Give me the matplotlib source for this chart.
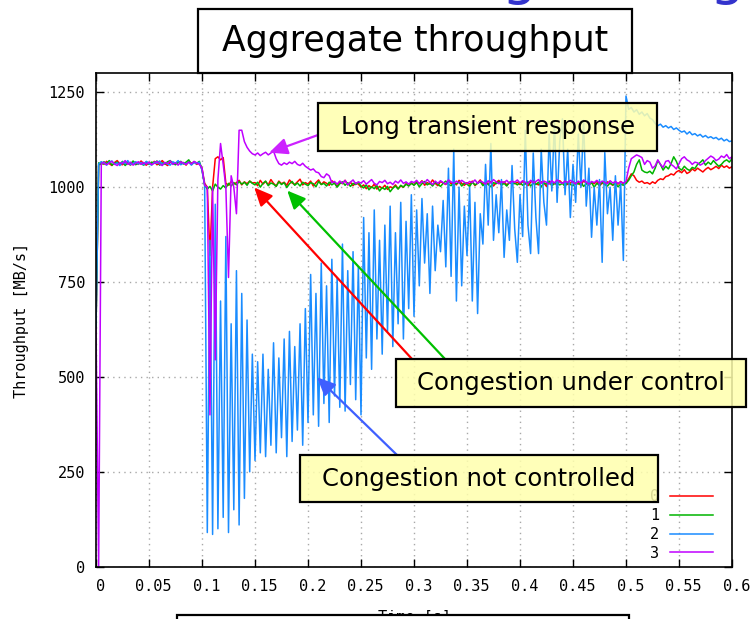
import numpy as np
import matplotlib
matplotlib.use("Agg")
import matplotlib.pyplot as plt
import matplotlib.transforms as mtransforms
from matplotlib.patches import Rectangle

W, H = 753, 619

# samples every 2.5 ms, 0 .. 0.6 s (rows of 20 = 50 ms)
t = np.round(np.arange(241) * 0.0025, 4)

red = [
    630, 1058, 1066, 1060, 1068, 1062, 1057, 1065, 1070, 1061, 1059, 1066, 1063, 1058, 1067, 1064, 1060, 1069, 1062, 1058,
    1065, 1061, 1068, 1059, 1063, 1070, 1062, 1057, 1066, 1064, 1060, 1067, 1061, 1065, 1058, 1068, 1063, 1066, 1060, 1064,
    1050, 1010, 1000, 820, 1000, 1075, 1080, 1072, 1078, 1010, 1005, 1015, 1008, 1012, 1018, 1006, 1014, 1009, 1016, 1011,
    1012, 1004, 1018, 1008, 1015, 1006, 1020, 1010, 1003, 1016, 1009, 1013, 1005, 1019, 1011, 1007, 1014, 1021, 1006, 1012,
    1008, 1016, 1003, 1012, 1019, 1007, 1014, 1010, 1005, 1017, 1011, 1002, 1015, 1009, 1018, 1006, 1013, 1004, 1011, 1008,
    1000, 1006, 996, 1004, 999, 1008, 995, 1002, 997, 1005, 994, 1001, 998, 1006, 996, 1003, 1000, 1009, 1004, 1011,
    1006, 1014, 1009, 1017, 1005, 1012, 1008, 1019, 1010, 1004, 1015, 1011, 1007, 1016, 1009, 1013, 1006, 1018, 1010, 1005,
    1012, 1008, 1016, 1004, 1011, 1019, 1007, 1013, 1009, 1015, 1003, 1012, 1018, 1008, 1014, 1006, 1011, 1017, 1009, 1013,
    1007, 1015, 1010, 1004, 1013, 1018, 1009, 1006, 1014, 1011, 1002, 1016, 1008, 1012, 1005, 1017, 1010, 1014, 1007, 1011,
    1015, 1008, 1012, 1004, 1017, 1010, 1006, 1013, 1009, 1016, 1003, 1011, 1007, 1014, 1010, 1005, 1012, 1008, 1015, 1009,
    1012, 1022, 1035, 1030, 1018, 1013, 1016, 1010, 1012, 1008, 1014, 1010, 1018, 1022, 1020, 1028, 1030, 1035, 1032, 1040,
    1044, 1038, 1046, 1036, 1040, 1048, 1043, 1050, 1045, 1040, 1047, 1052, 1046, 1050, 1055, 1049, 1058, 1052, 1056, 1050, 1054,
]

green = [
    630, 1064, 1059, 1067, 1062, 1070, 1058, 1063, 1066, 1060, 1068, 1057, 1064, 1061, 1069, 1059, 1065, 1062, 1058, 1067,
    1060, 1066, 1063, 1069, 1058, 1064, 1061, 1067, 1070, 1062, 1059, 1065, 1068, 1061, 1066, 1072, 1060, 1067, 1063, 1068,
    1045, 1005, 995, 1002, 990, 1008, 1000, 995, 1004, 998, 1010, 1003, 1012, 1006, 1015, 1008, 1013, 1005, 1016, 1010,
    1006, 1013, 1000, 1010, 1016, 1004, 1011, 1008, 1002, 1014, 1007, 1012, 999, 1009, 1015, 1005, 1011, 1003, 1013, 1008,
    1004, 1012, 1009, 1001, 1015, 1007, 1010, 1003, 1013, 1006, 1011, 1000, 1009, 1014, 1005, 1012, 1002, 1010, 1007, 1013,
    1003, 998, 1006, 993, 1001, 996, 1004, 990, 999, 994, 1002, 988, 997, 1003, 995, 1005, 1000, 1008, 1003, 1010,
    1005, 1012, 1001, 1009, 1015, 1006, 1011, 1003, 1013, 1008, 1002, 1010, 1016, 1007, 1004, 1012, 1009, 1014, 1003, 1011,
    1008, 1002, 1013, 1006, 1010, 1015, 1004, 1011, 1007, 1001, 1012, 1009, 1014, 1005, 1010, 1003, 1013, 1008, 1011, 1006,
    1012, 1005, 1009, 1014, 1003, 1010, 1007, 1013, 1001, 1011, 1008, 1015, 1004, 1009, 1012, 1006, 1010, 1002, 1013, 1007,
    1004, 1011, 1008, 1013, 1002, 1009, 1006, 1012, 1000, 1010, 1005, 1014, 1007, 1003, 1011, 1006, 1009, 1001, 1008, 1005,
    1010, 1018, 1030, 1040, 1060, 1072, 1045, 1040, 1038, 1042, 1035, 1050, 1070, 1060, 1045, 1055, 1048, 1062, 1080, 1068,
    1050, 1045, 1055, 1048, 1044, 1052, 1049, 1060, 1065, 1072, 1058, 1066, 1060, 1070, 1062, 1055, 1060, 1068, 1072, 1066, 1075,
]

blue = [
    630, 1061, 1067, 1063, 1058, 1066, 1069, 1060, 1064, 1057, 1066, 1062, 1070, 1059, 1063, 1067, 1061, 1065, 1059, 1068,
    1062, 1058, 1066, 1063, 1069, 1060, 1065, 1061, 1058, 1067, 1063, 1070, 1059, 1064, 1061, 1066, 1058, 1065, 1062, 1066,
    1045, 1005, 90, 860, 85, 955, 100, 700, 130, 870, 90, 640, 150, 780, 110, 720, 180, 650, 250, 560,
    280, 540, 300, 560, 290, 520, 320, 590, 300, 550, 340, 600, 290, 620, 330, 580, 360, 640, 320, 680,
    380, 770, 400, 720, 370, 800, 430, 740, 380, 810, 450, 760, 420, 850, 410, 780, 480, 830, 440, 790,
    400, 920, 550, 880, 520, 940, 600, 860, 560, 900, 620, 950, 580, 880, 640, 960, 600, 910, 680, 980,
    660, 940, 740, 970, 800, 930, 720, 950, 780, 900, 830, 965, 790, 1050, 765, 1100, 700, 1000, 740, 950,
    820, 1000, 700, 960, 667, 930, 850, 1060, 900, 1115, 860, 980, 880, 1020, 815, 940, 860, 1057, 890, 802,
    980, 870, 1150, 900, 825, 1090, 920, 825, 1100, 960, 900, 1140, 990, 1170, 960, 1120, 1180, 980, 1100, 920,
    1060, 960, 1140, 1000, 1176, 950, 1050, 868, 1000, 900, 1020, 802, 1091, 930, 1000, 860, 1030, 900, 1010, 807,
    1240, 1205, 1210, 1198, 1204, 1192, 1198, 1188, 1194, 1182, 1178, 1168, 1162, 1166, 1158, 1162, 1156, 1160, 1152, 1156,
    1150, 1145, 1148, 1140, 1146, 1138, 1141, 1135, 1139, 1132, 1136, 1130, 1133, 1128, 1131, 1125, 1129, 1122, 1126, 1120, 1122,
]

magenta = [
    630, 0, 1062, 1066, 1059, 1064, 1068, 1061, 1057, 1065, 1062, 1070, 1060, 1066, 1058, 1063, 1067, 1060, 1065, 1061,
    1066, 1059, 1063, 1068, 1061, 1057, 1065, 1062, 1069, 1060, 1064, 1058, 1067, 1063, 1060, 1066, 1061, 1068, 1064, 1060,
    1050, 1005, 1000, 400, 1000, 545, 1020, 1115, 1060, 1000, 762, 1030, 1000, 930, 1150, 1150, 1120, 1105, 1095, 1088,
    1085, 1090, 1083, 1088, 1092, 1085, 1090, 1095, 1075, 1062, 1058, 1064, 1060, 1066, 1062, 1068, 1060, 1057, 1063, 1055,
    1050, 1045, 1048, 1040, 1038, 1028, 1025, 1035, 1030, 1012, 1015, 1008, 1016, 1010, 1018, 1006, 1013, 1019, 1009, 1014,
    1011, 1017, 1008, 1014, 1020, 1010, 1006, 1015, 1012, 1018, 1009, 1013, 1007, 1016, 1011, 1019, 1010, 1014, 1008, 1015,
    1012, 1018, 1009, 1015, 1011, 1020, 1013, 1007, 1016, 1010, 1017, 1012, 1008, 1019, 1014, 1010, 1016, 1011, 1018, 1013,
    1009, 1015, 1012, 1019, 1010, 1016, 1013, 1008, 1017, 1011, 1020, 1014, 1009, 1015, 1012, 1018, 1010, 1016, 1013, 1019,
    1011, 1017, 1013, 1009, 1018, 1012, 1015, 1020, 1010, 1016, 1013, 1008, 1017, 1011, 1019, 1014, 1010, 1016, 1012, 1018,
    1013, 1009, 1016, 1011, 1019, 1014, 1008, 1015, 1012, 1018, 1010, 1016, 1013, 1009, 1017, 1011, 1015, 1010, 1014, 1011,
    1015, 1050, 1075, 1080, 1085, 1082, 1078, 1060, 1070, 1066, 1050, 1056, 1072, 1060, 1052, 1068, 1070, 1060, 1055, 1048,
    1062, 1075, 1080, 1072, 1068, 1060, 1066, 1064, 1058, 1062, 1070, 1076, 1082, 1078, 1070, 1074, 1082, 1078, 1086, 1075, 1080,
]

labels = ["0", "1", "2", "3"]
colors = ["#ff0000", "#00b400", "#1a8cff", "#c000ff"]
xticks = [0, 0.05, 0.1, 0.15, 0.2, 0.25, 0.3, 0.35, 0.4, 0.45, 0.5, 0.55, 0.6]
xtick_labels = ["0", "0.05", "0.1", "0.15", "0.2", "0.25", "0.3", "0.35", "0.4", "0.45", "0.5", "0.55", "0.6"]
yticks = [0, 250, 500, 750, 1000, 1250]

plt.rcParams["font.family"] = "DejaVu Sans Mono"
CASUAL = "DejaVu Sans"

fig = plt.figure(figsize=(W / 100, H / 100), dpi=100)
ax = fig.add_axes([96 / W, 1 - 566.7 / H, 636 / W, (566.7 - 73.3) / H])

for vals, c, lab in zip([red, green, blue, magenta], colors, labels):
    ax.plot(t, vals, color=c, lw=1.1, label=lab)

ax.set_xlim(0, 0.6)
ax.set_ylim(0, 1300)
ax.set_xticks(xticks)
ax.set_xticklabels(xtick_labels)
ax.set_yticks(yticks)
ax.set_axisbelow(True)
ax.grid(True, color="#a8a8a8", ls=(0, (1, 3)), lw=1)
ax.tick_params(direction="in", length=6, width=1, top=True, right=True,
               labelsize=11, colors="black")
ax.tick_params(axis="y", pad=8)
ax.tick_params(axis="x", pad=9)
for s in ax.spines.values():
    s.set_linewidth(1.2)

# gnuplot labels sit a little right of their ticks
off = mtransforms.ScaledTranslation(4.5 / 100, 0, fig.dpi_scale_trans)
for lbl in ax.get_xticklabels():
    lbl.set_transform(lbl.get_transform() + off)

ax.set_ylabel("Throughput [MB/s]", fontsize=11, labelpad=14)
ax.set_xlabel("Time [s]", fontsize=11, labelpad=11)

ax.legend(loc="lower right", bbox_to_anchor=(0.97, 0.012), frameon=False,
          markerfirst=False, handlelength=2.8, handletextpad=0.7,
          labelspacing=0.25, fontsize=11, borderpad=0, borderaxespad=0)


def px_box(x0, y0, x1, y1, fc):
    fig.add_artist(Rectangle((x0 / W, 1 - y1 / H), (x1 - x0) / W, (y1 - y0) / H,
                             transform=fig.transFigure, fc=fc, ec="black", lw=1.6))


def px_text(x, y, s, size):
    fig.text(x / W, 1 - y / H, s, ha="center", va="center", fontsize=size,
             family=CASUAL, color="black")


def arrow(tip, start, c):
    ax.annotate("", xy=tip, xycoords="data",
                xytext=(start[0] / W, 1 - start[1] / H), textcoords="figure fraction",
                arrowprops=dict(arrowstyle="-|>,head_length=1.1,head_width=0.5",
                                color=c, lw=1.6, shrinkA=0, shrinkB=0),
                annotation_clip=False)


yellow = (1.0, 1.0, 0.68, 0.85)

# arrows
arrow((0.1634, 1091), (318, 135), "#cc22ff")
arrow((0.1493, 999), (412, 359), "#ff0000")
arrow((0.1804, 991), (445, 359), "#00c000")
arrow((0.2086, 499), (397, 455), "#3f5fff")

# title and callout boxes
px_box(198, 9, 632, 73, "white")
px_text(415, 41, "Aggregate throughput", 25)
px_box(318, 103, 657, 151, yellow)
px_text(488, 127, "Long transient response", 17.5)
px_box(396, 359, 746, 407, yellow)
px_text(571, 383, "Congestion under control", 17.5)
px_box(300, 455, 658, 502, yellow)
px_text(479, 479, "Congestion not controlled", 17.5)
px_box(177, 615, 629, 640, "white")

# bits of the slide heading cut off at the top
fig.text(520 / W, 1 + 7 / H, "g", color="#3333cc", fontsize=40, ha="center", va="baseline", family=CASUAL)
fig.text(728 / W, 1 + 7 / H, "g", color="#3333cc", fontsize=40, ha="center", va="baseline", family=CASUAL)

fig.savefig("out.png", dpi=100, facecolor="white")
